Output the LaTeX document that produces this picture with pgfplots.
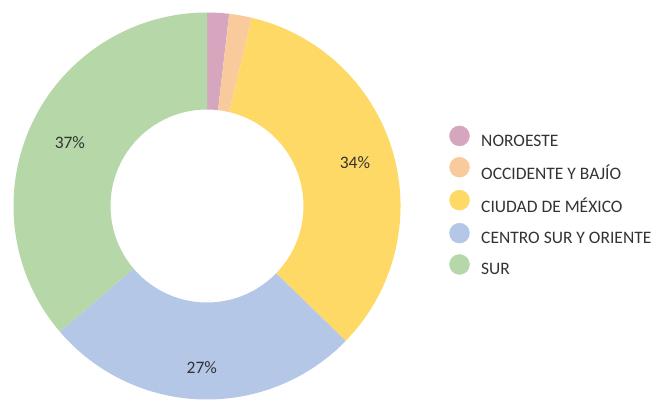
\documentclass[border=0pt]{standalone}
\usepackage{pgfplots}
\pgfplotsset{compat=1.18}
\usetikzlibrary{calc}
\usepackage{fontspec}
\setmainfont{Carlito}

\definecolor{cNor}{HTML}{D5A6BD}
\definecolor{cOcc}{HTML}{F9CB9C}
\definecolor{cCdmx}{HTML}{FFD966}
\definecolor{cCen}{HTML}{B4C7E7}
\definecolor{cSur}{HTML}{B6D7A8}
\definecolor{txt}{HTML}{333333}

% donut geometry (axis units = pt)
\def\cx{207}\def\cy{194}
\def\rout{193.5pt}\def\rin{96.5pt}
\def\cum{90}

% #1 share in percent, #2 colour, #3 label, #4 label radius
\newcommand\donutslice[4]{%
  \pgfmathsetmacro\aend{\cum-3.6*#1}%
  \pgfmathsetmacro\amid{(\cum+\aend)/2}%
  \edef\temp{\noexpand\fill[#2] ($(axis cs:\cx,\cy)+(\cum:\rout)$)
    arc[start angle=\cum, end angle=\aend, radius=\rout]
    -- ($(axis cs:\cx,\cy)+(\aend:\rin)$)
    arc[start angle=\aend, end angle=\cum, radius=\rin] -- cycle;
    \noexpand\node[text=txt, font=\noexpand\fontsize{17.5}{20}\noexpand\selectfont]
      at ($(axis cs:\cx,\cy)+(\amid:#4pt)$) {#3};}%
  \temp
  \global\let\cum\aend
}

\pgfplotsset{dot/.style={legend image code/.code={\fill[#1] (10pt,5.6pt) circle[radius=10pt];}}}

\begin{document}
\begin{tikzpicture}
\begin{axis}[
    hide axis,
    scale only axis,
    width=657pt, height=400pt,
    xmin=0, xmax=657, ymin=0, ymax=400,
    legend cell align=left,
    legend style={draw=none, fill=none, inner sep=0pt, outer sep=0pt,
        at={(axis cs:449.3,274.3)}, anchor=north west,
        row sep=9.1pt, column sep=11.5pt,
        nodes={inner sep=0pt, text=txt},
        font=\fontsize{17.5}{20}\selectfont},
]
\draw[draw=none] (rel axis cs:0,0) rectangle (rel axis cs:1,1);

\donutslice{1.83}{cNor}{}{0}
\donutslice{1.89}{cOcc}{}{0}
\donutslice{33.56}{cCdmx}{34\%}{154}
\donutslice{26.47}{cCen}{27\%}{162}
\donutslice{36.25}{cSur}{37\%}{151}

\addlegendimage{dot=cNor}
\addlegendentry{NOROESTE}
\addlegendimage{dot=cOcc}
\addlegendentry{OCCIDENTE Y BAJÍO}
\addlegendimage{dot=cCdmx}
\addlegendentry{CIUDAD DE MÉXICO}
\addlegendimage{dot=cCen}
\addlegendentry{CENTRO SUR Y ORIENTE}
\addlegendimage{dot=cSur}
\addlegendentry{SUR}
\end{axis}
\end{tikzpicture}
\end{document}
